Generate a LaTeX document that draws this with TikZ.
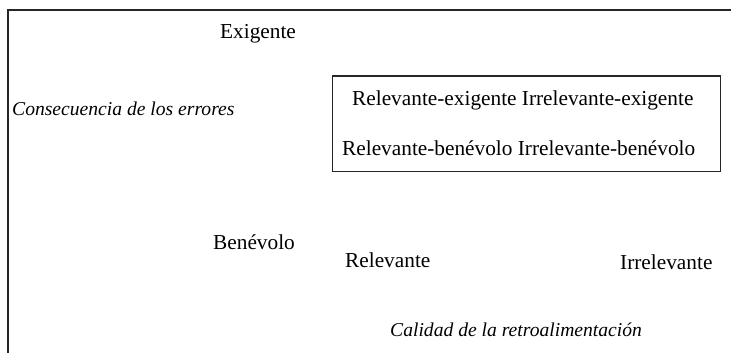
\documentclass[tikz,border=0pt]{standalone}
\usepackage{fontspec}
\setmainfont{Liberation Serif}
\begin{document}
\begin{tikzpicture}[x=1pt,y=-1pt,
  lbl/.style={anchor=base west,inner sep=0pt,font=\fontsize{21.3}{25}\selectfont},
  ilbl/.style={lbl,font=\fontsize{19.6}{23}\selectfont\itshape},
  frame/.style={line width=1.2pt,draw=black!85}]
\useasboundingbox (0,0) rectangle (731,353);
\coordinate (tr) at (731,10);
\coordinate (tl) at (8,10);
\coordinate (bl) at (8,353);
\draw[frame] (tr) -- (tl) -- (bl);
\node[frame,draw,anchor=north west,minimum width=388pt,minimum height=95.5pt,inner sep=0pt] (box) at (332,75.5) {};
\node[lbl] (exi) at (220,38.5) {Exigente};
\node[ilbl] (cons) at (12,115) {Consecuencia de los errores};
\node[lbl] (r1) at (352,105) {Relevante-exigente Irrelevante-exigente};
\node[lbl] (r2) at (342,155) {Relevante-benévolo Irrelevante-benévolo};
\node[lbl] (ben) at (213,249) {Benévolo};
\node[lbl] (rel) at (345,267) {Relevante};
\node[lbl] (irr) at (620,269.5) {Irrelevante};
\node[ilbl] (cal) at (390,336) {Calidad de la retroalimentación};
\end{tikzpicture}
\end{document}
